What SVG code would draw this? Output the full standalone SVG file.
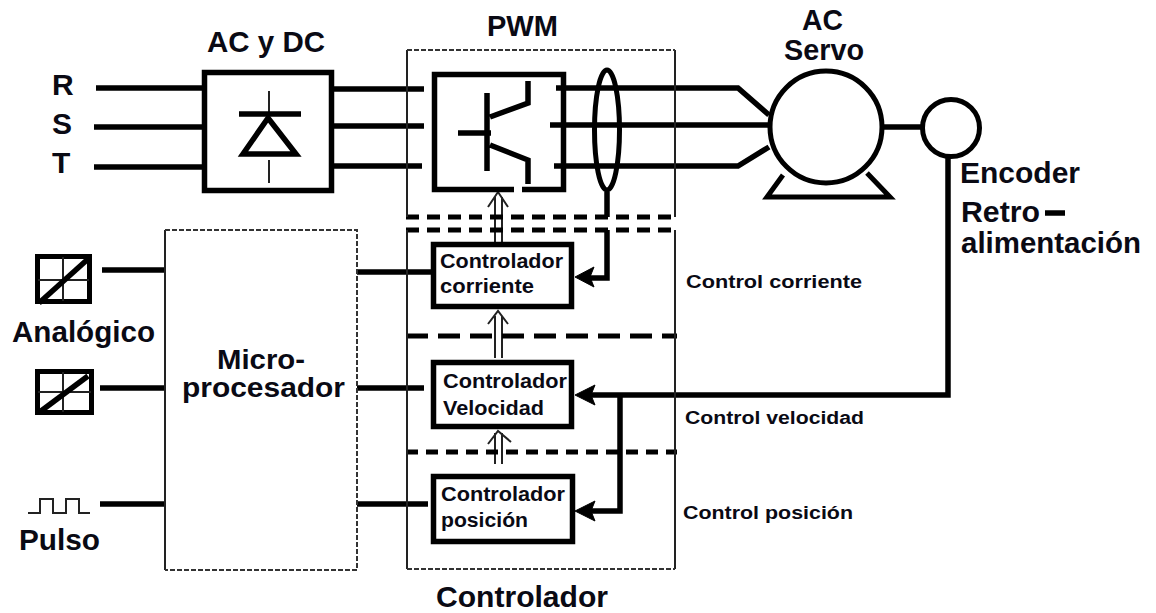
<svg xmlns="http://www.w3.org/2000/svg" width="1156" height="613" viewBox="0 0 1156 613">
<style>
text{font-family:"Liberation Sans",Arial,sans-serif;font-weight:700;fill:#0a0a14}
.l{font-size:30px}.p{font-size:27px}.m{font-size:20px}.s{font-size:18px}
.w{fill:none;stroke:#000;stroke-width:5.5}
.b{fill:#fff;stroke:#000;stroke-width:5.5}
.t{fill:none;stroke:#222;stroke-width:2}
.d{fill:none;stroke:#333;stroke-width:2;stroke-dasharray:5 2}
.k{fill:none;stroke:#000;stroke-width:5}
</style>
<rect width="1156" height="613" fill="#fff"/>
<g id="connectors">
<path class="w" d="M96 88H205M94 127H205M94 167H205M332 89H424M332 126H424M332 166H422"/>
<path class="w" d="M556 88H738L769 115M550 125H770M554 166H738L769 147"/>
<path class="w" d="M883 127H922"/>
<path class="w" d="M102 270H166M100 388H165M100 504H165M357 272H431M357 388H424M357 504H428"/>
<path class="w" d="M607 192V217M607 230V278H585"/>
<path class="w" d="M948 157V395H585M620 395V511H585"/>
<path d="M575 277L594 267L590 277L594 287Z M575 395L595 385L591 395L595 405Z M575 511L595 501L591 511L595 521Z" fill="#000" stroke="#000"/>
<path class="t" d="M495 242V197M502 242V197M488 207L498 192L508 207M495 358V316M502 358V316M488 324L498 311L508 324M495 464V433M502 464V433M488 444L498 431L511 442"/>
<path class="k" d="M406 217H677" stroke-dasharray="13 8"/>
<path class="k" d="M406 230H677" stroke-dasharray="13 8"/>
<path class="k" d="M406 336H677" stroke-dasharray="22 10"/>
<path class="k" d="M406 452H677" stroke-dasharray="12 8"/>
</g>
<g id="rectifier">
<rect class="b" x="204.500" y="72.500" width="127" height="118"/>
<path class="t" d="M269 91V113M269 160V183"/>
<path class="w" d="M239 114H301"/>
<path class="w" d="M268 118L243 154H296Z"/>
<text class="l" x="207" y="52" textLength="118" lengthAdjust="spacingAndGlyphs">AC y DC</text>
</g>
<g id="inputs-rst">
<text class="l" x="52" y="95">R</text>
<text class="l" x="52" y="134">S</text>
<text class="l" x="52" y="173">T</text>
</g>
<g id="pwm">
<path class="t" d="M407 217V50M675 50V217M407 230V569M675 569V230"/>
<path class="d" d="M407 50H675M407 569H675"/>
<path class="w" d="M514 189.500H434.500V74.500H563.500V189.500H522"/>
<path class="w" d="M487 93V171M458 133H491M490 117L528 103V81M490 145L528 160V184"/>
<ellipse class="k" cx="607" cy="130" rx="12.500" ry="60"/>
<text class="l" x="487" y="36" textLength="71" lengthAdjust="spacingAndGlyphs">PWM</text>
</g>
<g id="motor">
<circle class="k" cx="826" cy="127" r="56"/>
<path class="k" d="M783 175L767 197H890L867 173"/>
<text class="l" x="802" y="30" textLength="41" lengthAdjust="spacingAndGlyphs">AC</text>
<text class="l" x="784" y="60" textLength="80" lengthAdjust="spacingAndGlyphs">Servo</text>
</g>
<g id="encoder">
<circle class="k" cx="951" cy="128" r="28.500"/>
<text class="l" x="960" y="183" textLength="120" lengthAdjust="spacingAndGlyphs">Encoder</text>
<text class="l" x="961" y="222" textLength="79" lengthAdjust="spacingAndGlyphs">Retro</text>
<path class="w" d="M1045 213H1065"/>
<text class="l" x="961" y="253" textLength="180" lengthAdjust="spacingAndGlyphs">alimentación</text>
</g>
<g id="analog-1">
<rect class="k" x="37.500" y="256.500" width="52" height="45"/>
<path class="t" d="M63 257V301M38 280H89"/>
<path class="w" d="M39 303L88 259"/>
<text class="l" x="12" y="342" textLength="143" lengthAdjust="spacingAndGlyphs">Analógico</text>
</g>
<g id="analog-2">
<rect class="k" x="37.500" y="371.500" width="54" height="41"/>
<path class="t" d="M63 372V412M38 392H91"/>
<path class="w" d="M41 411L88 376"/>
</g>
<g id="pulse">
<path class="t" d="M28 513H40V499H53V513H66V499H79V513H90"/>
<text class="l" x="19" y="550" textLength="81" lengthAdjust="spacingAndGlyphs">Pulso</text>
</g>
<g id="microprocessor">
<path class="t" d="M165 570V230"/>
<path class="d" d="M165 230H357V570H165"/>
<text class="p" x="217" y="369" textLength="88" lengthAdjust="spacingAndGlyphs">Micro-</text>
<text class="p" x="182" y="397" textLength="163" lengthAdjust="spacingAndGlyphs">procesador</text>
</g>
<g id="ctrl-corriente">
<rect class="b" x="433.500" y="244.500" width="138" height="62"/>
<text class="m" x="440" y="268" textLength="123" lengthAdjust="spacingAndGlyphs">Controlador</text>
<text class="m" x="440" y="293" textLength="94" lengthAdjust="spacingAndGlyphs">corriente</text>
<text class="s" x="686" y="288" textLength="176" lengthAdjust="spacingAndGlyphs">Control corriente</text>
</g>
<g id="ctrl-velocidad">
<rect class="b" x="433.500" y="362.500" width="138" height="64"/>
<text class="m" x="443" y="388" textLength="124" lengthAdjust="spacingAndGlyphs">Controlador</text>
<text class="m" x="443" y="415" textLength="101" lengthAdjust="spacingAndGlyphs">Velocidad</text>
<text class="s" x="685" y="424" textLength="179" lengthAdjust="spacingAndGlyphs">Control velocidad</text>
</g>
<g id="ctrl-posicion">
<rect class="b" x="433.500" y="476.500" width="139" height="65"/>
<text class="m" x="441" y="501" textLength="124" lengthAdjust="spacingAndGlyphs">Controlador</text>
<text class="m" x="441" y="527" textLength="87" lengthAdjust="spacingAndGlyphs">posición</text>
<text class="s" x="683" y="519" textLength="170" lengthAdjust="spacingAndGlyphs">Control posición</text>
</g>
<g id="controller-label">
<text class="l" x="436" y="607" textLength="172" lengthAdjust="spacingAndGlyphs">Controlador</text>
</g>
</svg>
